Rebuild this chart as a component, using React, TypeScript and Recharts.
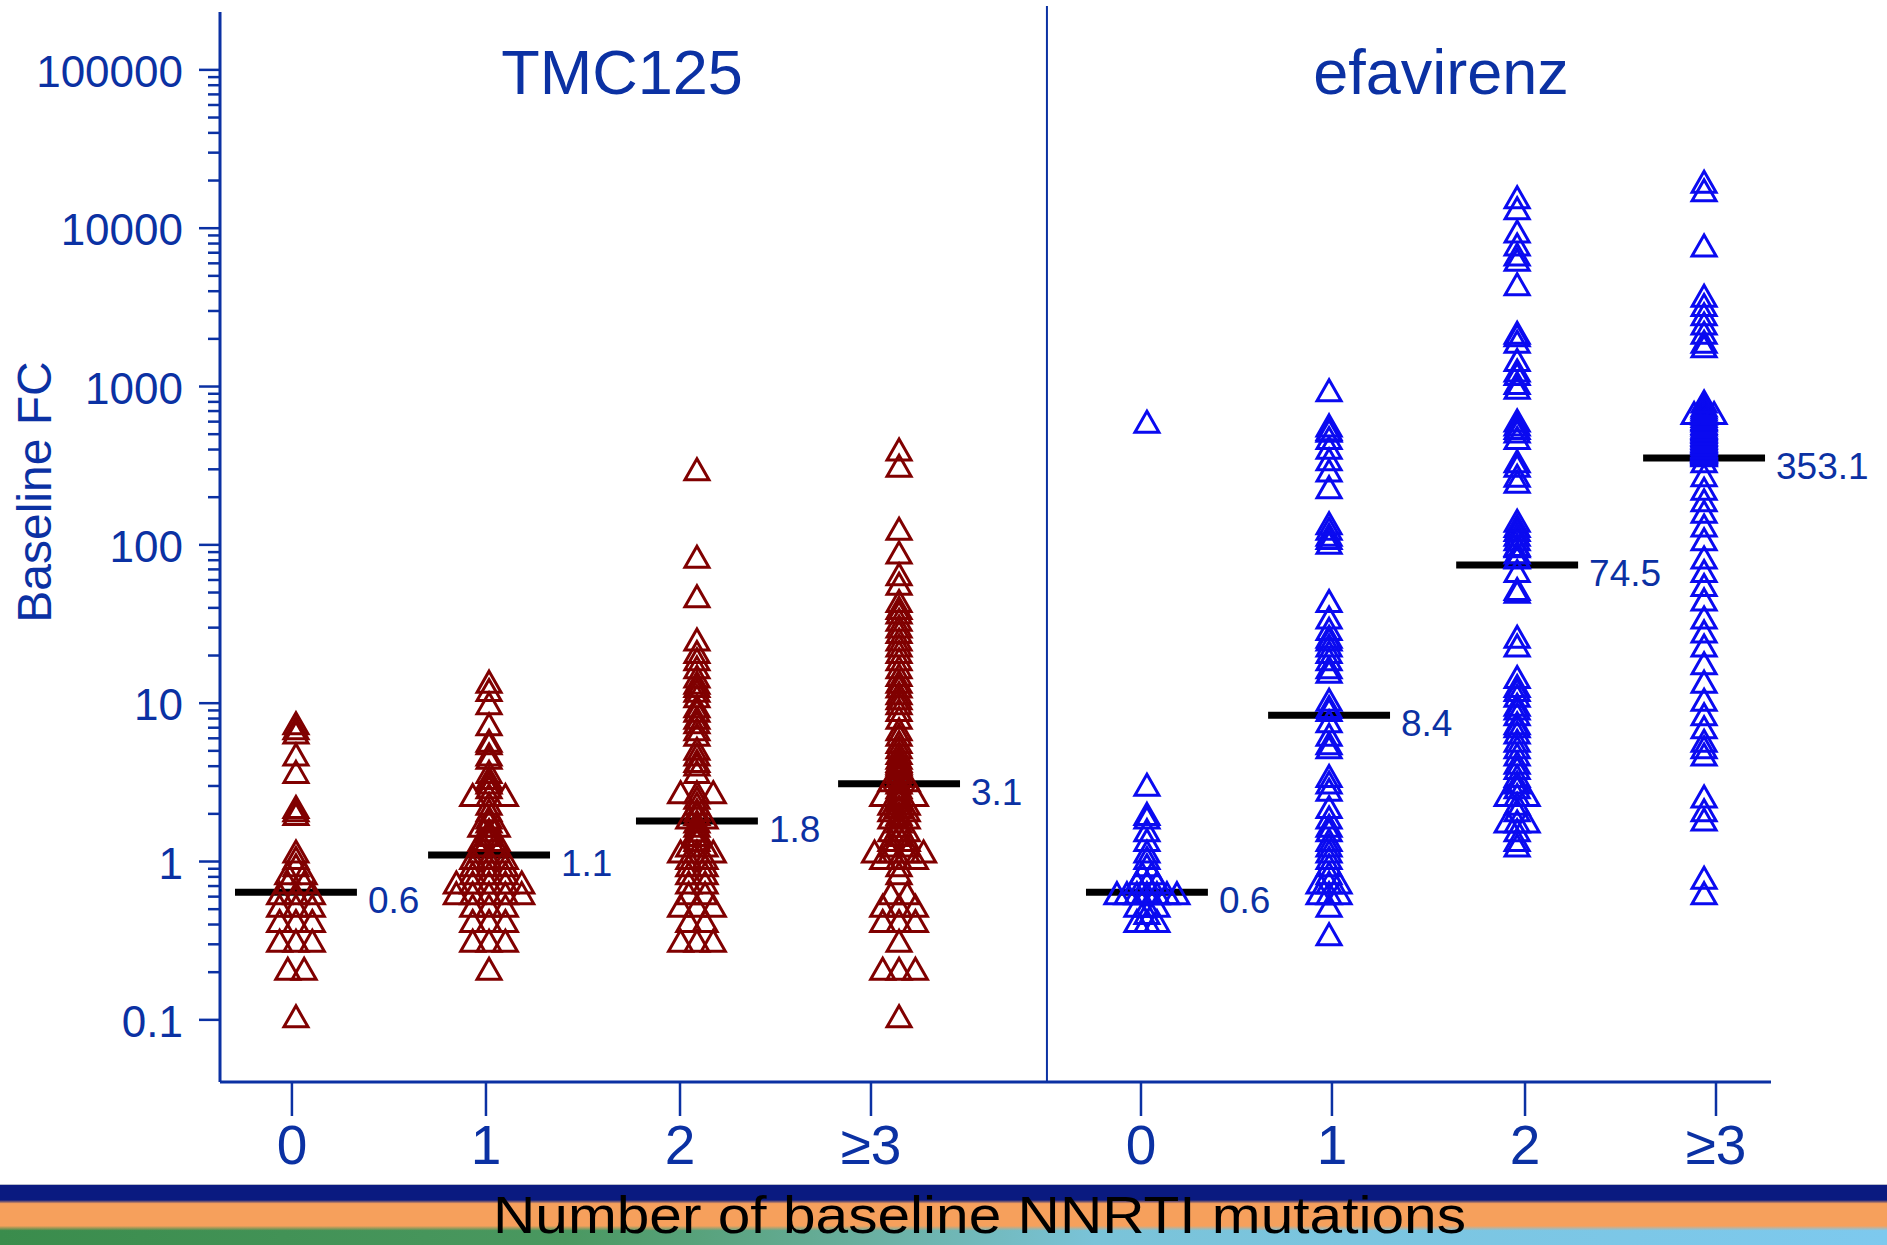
import React from "react";
import { ScatterChart, Scatter, XAxis, YAxis, ReferenceLine } from "recharts";

// baseline fold change (FC), one list per number of baseline NNRTI mutations
const tmc0 = [0.1, 0.2, 0.2, 0.3, 0.3, 0.3, 0.4, 0.4, 0.4, 0.5, 0.5, 0.5, 0.6, 0.6, 0.6, 0.7, 0.7, 0.8, 0.8, 0.9, 1.0, 1.1, 1.9, 2.0, 2.1, 3.5, 4.5, 6.2, 6.6, 7.1];
const tmc1 = [0.2, 0.3, 0.3, 0.3, 0.4, 0.4, 0.4, 0.5, 0.5, 0.5, 0.6, 0.6, 0.6, 0.6, 0.6, 0.7, 0.7, 0.7, 0.7, 0.7, 0.8, 0.8, 0.8, 0.9, 0.9, 0.9, 1.0, 1.0, 1.0, 1.1, 1.1, 1.2, 1.2, 1.3, 1.3, 1.4, 1.5, 1.6, 1.6, 1.7, 1.8, 2.0, 2.2, 2.5, 2.5, 2.5, 2.8, 3.0, 3.2, 3.5, 4.3, 4.5, 5.3, 5.5, 7.0, 9.5, 11.5, 13.0];
const tmc2 = [0.3, 0.3, 0.3, 0.4, 0.4, 0.5, 0.5, 0.5, 0.6, 0.6, 0.7, 0.7, 0.8, 0.8, 0.9, 0.9, 1.0, 1.0, 1.1, 1.1, 1.1, 1.2, 1.2, 1.3, 1.4, 1.5, 1.6, 1.7, 1.8, 1.8, 1.9, 2.0, 2.2, 2.4, 2.6, 2.6, 2.6, 3.5, 3.9, 4.1, 4.5, 4.9, 6.0, 6.5, 7.2, 7.7, 8.5, 9.1, 10.5, 11.4, 12.2, 12.8, 14, 16, 18, 20, 24, 45, 80, 285];
const tmc3 = [0.1, 0.2, 0.2, 0.2, 0.3, 0.4, 0.4, 0.4, 0.5, 0.5, 0.5, 0.6, 0.6, 0.8, 0.9, 1.0, 1.0, 1.0, 1.1, 1.1, 1.1, 1.1, 1.2, 1.2, 1.3, 1.3, 1.4, 1.5, 1.5, 1.6, 1.7, 1.8, 1.8, 1.9, 2.0, 2.0, 2.1, 2.2, 2.2, 2.3, 2.4, 2.5, 2.5, 2.5, 2.7, 2.8, 3.0, 3.1, 3.1, 3.3, 3.5, 3.7, 3.9, 4.0, 4.1, 4.3, 4.6, 5.0, 5.4, 6.0, 6.5, 7.7, 8.6, 9.5, 10.2, 11, 12.1, 13, 14.3, 16, 18, 20, 22, 24, 26.8, 29, 32, 35.5, 38, 42, 54, 62, 85, 120, 300, 380];

const efv0 = [0.4, 0.4, 0.4, 0.45, 0.5, 0.5, 0.5, 0.6, 0.6, 0.6, 0.6, 0.6, 0.6, 0.6, 0.7, 0.7, 0.7, 0.8, 0.8, 0.9, 1.0, 1.1, 1.3, 1.5, 1.8, 1.9, 2.9, 570];
const efv1 = [0.33, 0.5, 0.6, 0.6, 0.6, 0.7, 0.7, 0.7, 0.8, 0.9, 1.0, 1.1, 1.2, 1.3, 1.5, 1.6, 1.8, 2.1, 2.7, 3.0, 3.3, 5.0, 5.3, 6.0, 7.3, 8.6, 9.0, 10, 15, 16, 18, 20, 22, 24, 25, 28, 33, 42, 98, 105, 110, 120, 130, 220, 280, 330, 390, 450, 500, 510, 540, 900];
const efv2 = [1.2, 1.3, 1.5, 1.7, 1.7, 1.7, 2.0, 2.2, 2.5, 2.5, 2.5, 2.8, 3.0, 3.3, 3.7, 4.0, 4.5, 5.0, 5.5, 6.2, 6.8, 7.1, 8.1, 8.8, 9.3, 10.6, 11.5, 12.2, 13.9, 22, 25, 48, 50, 65, 79, 80, 85, 93, 95, 103, 110, 118, 125, 135, 238, 260, 300, 321, 450, 495, 520, 548, 580, 935, 1000, 1140, 1200, 1400, 1820, 2000, 2080, 4200, 6000, 6480, 7500, 9050, 12700, 14900];
const efv3 = [0.6, 0.75, 1.75, 2.0, 2.45, 4.5, 5.0, 5.5, 6.7, 8.1, 10, 13, 17, 22, 27, 33, 43, 53, 65, 79, 103, 126, 154, 182, 215, 262, 321, 350, 355, 360, 365, 367, 372, 375, 380, 385, 390, 395, 400, 410, 418, 425, 430, 440, 450, 460, 470, 479, 490, 500, 510, 520, 530, 548, 560, 580, 590, 600, 620, 640, 647, 647, 647, 660, 680, 700, 720, 765, 1710, 1820, 2080, 2380, 2720, 3110, 3560, 7400, 16500, 18700];

const medians = [0.64, 1.1, 1.8, 3.1, 0.64, 8.4, 74.5, 353.1];
const medianLabels = ["0.6", "1.1", "1.8", "3.1", "0.6", "8.4", "74.5", "353.1"];
const categories = ["0", "1", "2", "≥3"];
const panels = ["TMC125", "efavirenz"];
const yMajor = [0.1, 1, 10, 100, 1000, 10000, 100000];

// layout (x in units of one category step)
const GROUP_X = [0, 1.004, 2.085, 3.136, 4.425, 5.372, 6.35, 7.322];
const TICK_X = [-0.021, 0.988, 1.997, 2.99, 4.394, 5.387, 6.391, 7.384];
const X_DOMAIN = [-0.395, 7.67];
const Y_DOMAIN = [0.0405, 232000];
const DIVIDER_X = 3.905;
const STEP = [0.085, 0.052];
const HALF = 0.317;

const BLUE = "#0b31a3";
const RED = "#800000";
const MARK_BLUE = "#0a0af0";
const FONT = '"Liberation Sans", Arial, Helvetica, sans-serif';

const yTicks = yMajor.flatMap((m, i) =>
  i < yMajor.length - 1 ? [2, 3, 4, 5, 6, 7, 8, 9, 1].map((d) => Number((d * m).toPrecision(3))) : [m]
);

// spread tied values side by side, like a dot plot
function spread(values: number[], cx: number, step: number) {
  const counts = new Map<number, number>();
  values.forEach((v) => counts.set(v, (counts.get(v) || 0) + 1));
  const seen = new Map<number, number>();
  return values.map((v) => {
    const i = seen.get(v) || 0;
    seen.set(v, i + 1);
    const n = counts.get(v)!;
    return { x: cx + (i - (n - 1) / 2) * step, y: v };
  });
}

const tmcPoints = [tmc0, tmc1, tmc2, tmc3].flatMap((v, g) => spread(v, GROUP_X[g], STEP[0]));
const efvPoints = [efv0, efv1, efv2, efv3].flatMap((v, g) => spread(v, GROUP_X[g + 4], STEP[1]));

const triangle = (color: string) => (p: any) => {
  const { cx, cy } = p;
  if (cx == null || cy == null) return <g />;
  const d = `M${cx},${cy - 14}L${cx + 12},${cy + 7}L${cx - 12},${cy + 7}Z`;
  return <path d={d} fill="none" stroke={color} strokeWidth={3} />;
};

const YTick = (p: any) => {
  const { x, y, payload } = p;
  const v = payload.value;
  const lg = Math.log10(v);
  const major = Math.abs(lg - Math.round(lg)) < 1e-6;
  return (
    <g>
      <line x1={x - (major ? 21 : 12)} x2={x} y1={y} y2={y} stroke={BLUE} strokeWidth={2.5} />
      {major && (
        <text x={x - 37} y={y + 17} textAnchor="end" fontSize={44} fill={BLUE} fontFamily={FONT}>
          {String(v)}
        </text>
      )}
    </g>
  );
};

const XTick = (p: any) => {
  const { x, y, index } = p;
  return (
    <g>
      <line x1={x} x2={x} y1={y} y2={y + 34} stroke={BLUE} strokeWidth={2.5} />
      <text x={x} y={y + 82} textAnchor="middle" fontSize={55} fill={BLUE} fontFamily={FONT}>
        {categories[index % 4]}
      </text>
    </g>
  );
};

export default function App() {
  return (
    <div style={{ position: "relative", width: 1887, height: 1245, background: "#fff", fontFamily: FONT }}>
      <style>{"body{margin:0}"}</style>
      <ScatterChart width={1887} height={1185} margin={{ top: 12, right: 116, bottom: 0, left: 0 }}>
        <XAxis
          type="number"
          dataKey="x"
          domain={X_DOMAIN}
          ticks={TICK_X}
          interval={0}
          allowDataOverflow
          height={103}
          axisLine={{ stroke: BLUE, strokeWidth: 3 }}
          tickLine={false}
          tickSize={0}
          tickMargin={0}
          tick={(p: any) => <XTick {...p} />}
        />
        <YAxis
          type="number"
          dataKey="y"
          scale="log"
          domain={Y_DOMAIN}
          ticks={yTicks}
          interval={0}
          allowDataOverflow
          width={220}
          axisLine={{ stroke: BLUE, strokeWidth: 3 }}
          tickLine={false}
          tickSize={0}
          tickMargin={0}
          tick={(p: any) => <YTick {...p} />}
        />
        <ReferenceLine
          segment={[{ x: DIVIDER_X, y: Y_DOMAIN[0] }, { x: DIVIDER_X, y: 253000 }]}
          stroke={BLUE}
          strokeWidth={2}
          ifOverflow="visible"
        />
        <Scatter data={tmcPoints} shape={triangle(RED)} isAnimationActive={false} />
        <Scatter data={efvPoints} shape={triangle(MARK_BLUE)} isAnimationActive={false} />
        {medians.map((m, i) => (
          <ReferenceLine
            key={i}
            segment={[{ x: GROUP_X[i] - HALF, y: m }, { x: GROUP_X[i] + HALF, y: m }]}
            stroke="#000"
            strokeWidth={7}
            ifOverflow="visible"
            label={{
              content: (lp: any) => {
                const vb = lp.viewBox;
                if (!vb) return null;
                return (
                  <text x={vb.x + vb.width + 11} y={vb.y + 21} fontSize={37} fill={BLUE} fontFamily={FONT}>
                    {medianLabels[i]}
                  </text>
                );
              },
            }}
          />
        ))}
      </ScatterChart>
      <svg
        width={1887}
        height={1245}
        style={{ position: "absolute", left: 0, top: 0, pointerEvents: "none" }}
        fontFamily={FONT}
      >
        <defs>
          <linearGradient id="base" x1="0" y1="0" x2="1" y2="0">
            <stop offset="0" stopColor="#3a8c4c" />
            <stop offset="0.3" stopColor="#4a9860" />
            <stop offset="0.45" stopColor="#68ae9c" />
            <stop offset="0.58" stopColor="#7ac3d8" />
            <stop offset="1" stopColor="#7dc9ee" />
          </linearGradient>
          <linearGradient id="stripes" x1="0" y1="0" x2="0" y2="1">
            <stop offset="0" stopColor="#0a1a80" />
            <stop offset="0.25" stopColor="#0a1a80" />
            <stop offset="0.31" stopColor="#f6a05c" />
            <stop offset="0.68" stopColor="#f6a05c" />
            <stop offset="0.76" stopColor="#f6a05c" stopOpacity={0} />
            <stop offset="1" stopColor="#f6a05c" stopOpacity={0} />
          </linearGradient>
        </defs>
        <text x={622} y={94} textAnchor="middle" fontSize={63} fill={BLUE}>
          {panels[0]}
        </text>
        <text x={1441} y={94} textAnchor="middle" fontSize={63} fill={BLUE}>
          {panels[1]}
        </text>
        <text transform="translate(51,492) rotate(-90)" textAnchor="middle" fontSize={48} fill={BLUE}>
          Baseline FC
        </text>
        <rect x={0} y={1184} width={1887} height={1} fill="#b8bccc" />
        <rect x={0} y={1185} width={1887} height={60} fill="url(#base)" />
        <rect x={0} y={1185} width={1887} height={60} fill="url(#stripes)" />
        <text x={493} y={1233} fontSize={52} fill="#000" textLength={973} lengthAdjust="spacingAndGlyphs">
          Number of baseline NNRTI mutations
        </text>
      </svg>
    </div>
  );
}
